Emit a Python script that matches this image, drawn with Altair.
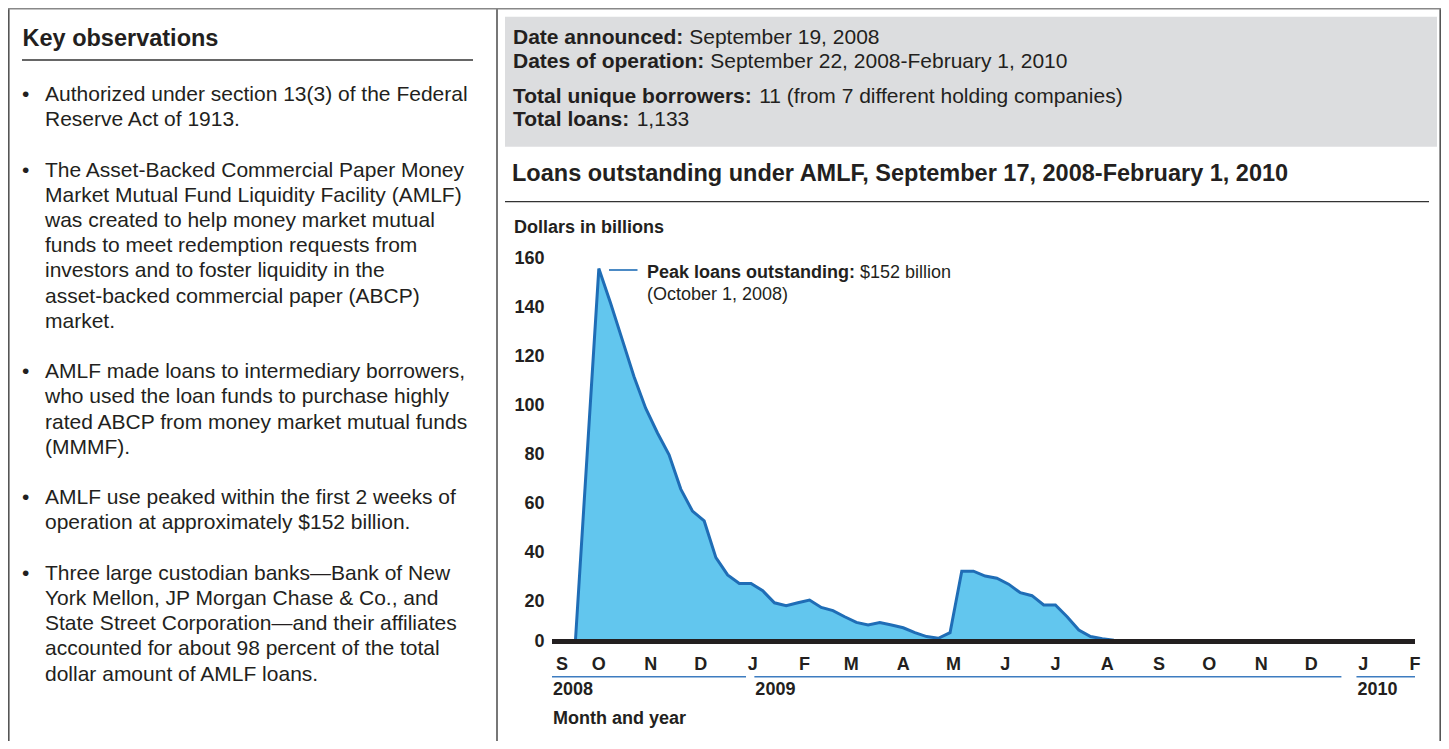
import altair as alt
import pandas as pd

FONT = "Liberation Sans"
INK = "#231f20"
FILL = "#62c6ee"
LINE = "#1f6db6"
RULE_BLUE = "#3d7cc0"
BOX_GRAY = "#dcdddf"
FRAME = "#555555"

# ---------------- data ----------------
first_wednesday = "2008-09-17"
loans_billions = [
    0, 76, 152, 138, 123, 108, 95, 85, 76, 62, 53, 49, 34, 27, 23.5, 23.5,
    20.5, 15.6, 14.4, 15.6, 16.7, 13.7, 12.4, 9.9, 7.6, 6.5, 7.5, 6.5, 5.4,
    3.4, 1.8, 1.1, 3.4, 28.5, 28.5, 26.5, 25.6, 23.2, 19.7, 18.5, 14.7, 14.7,
    9.9, 4.5, 1.8, 0.9, 0.3,
    0, 0, 0, 0, 0, 0, 0, 0, 0, 0, 0, 0, 0, 0, 0, 0, 0, 0, 0, 0, 0, 0, 0, 0, 0,
]
week_dates = pd.date_range(first_wednesday, periods=len(loans_billions), freq="7D").strftime("%Y-%m-%d").tolist()

y_ticks = [0, 20, 40, 60, 80, 100, 120, 140, 160]
month_dates = ["2008-09-09", "2008-10-01", "2008-11-01", "2008-12-01", "2009-01-01",
               "2009-02-01", "2009-03-01", "2009-04-01", "2009-05-01", "2009-06-01",
               "2009-07-01", "2009-08-01", "2009-09-01", "2009-10-01", "2009-11-01",
               "2009-12-01", "2010-01-01", "2010-02-01"]
month_letters = ["S", "O", "N", "D", "J", "F", "M", "A", "M", "J", "J", "A", "S", "O",
                 "N", "D", "J", "F"]
year_labels = ["2008", "2009", "2010"]
year_starts = ["2008-09-03", "2009-01-02", "2009-12-28"]
year_ends = ["2008-12-28", "2009-12-19", "2010-02-01"]

# ---------------- text ----------------
key_title = "Key observations"
key_paragraphs = [
    ["Authorized under section 13(3) of the Federal", "Reserve Act of 1913."],
    ["The Asset-Backed Commercial Paper Money", "Market Mutual Fund Liquidity Facility (AMLF)",
     "was created to help money market mutual", "funds to meet redemption requests from",
     "investors and to foster liquidity in the", "asset-backed commercial paper (ABCP)", "market."],
    ["AMLF made loans to intermediary borrowers,", "who used the loan funds to purchase highly",
     "rated ABCP from money market mutual funds", "(MMMF)."],
    ["AMLF use peaked within the first 2 weeks of", "operation at approximately $152 billion."],
    ["Three large custodian banks\u2014Bank of New", "York Mellon, JP Morgan Chase & Co., and",
     "State Street Corporation\u2014and their affiliates", "accounted for about 98 percent of the total",
     "dollar amount of AMLF loans."],
]
box_lines = [
    ("Date announced:", "September 19, 2008"),
    ("Dates of operation:", "September 22, 2008-February 1, 2010"),
    ("Total unique borrowers:", "11 (from 7 different holding companies)"),
    ("Total loans:", "1,133"),
]
chart_title = "Loans outstanding under AMLF, September 17, 2008-February 1, 2010"
y_title = "Dollars in billions"
x_title = "Month and year"
peak_bold = "Peak loans outstanding:"
peak_regular = "$152 billion"
peak_date = "(October 1, 2008)"

# ---------------- layout ----------------
W, H = 863, 392
OX, OY = 552, 249  # page position of the plot origin
PAD = {"left": OX - 8, "top": OY - 8, "right": 1433 - (OX - 8) - W, "bottom": 733 - (OY - 8) - H}


def rx(px):
    return px - OX


def ry(py):
    return py - OY


BOLD_W = {' ': 278, 'a': 556, 'b': 611, 'c': 556, 'd': 611, 'e': 556, 'f': 333, 'g': 611,
          'i': 278, 'k': 556, 'l': 278, 'n': 611, 'o': 611, 'p': 611, 'q': 611, 'r': 389,
          's': 556, 't': 333, 'u': 611, 'w': 778, 'D': 722, 'P': 667, 'T': 611, ':': 333}


def bold_width(s, size):
    return sum(BOLD_W[c] for c in s) * size / 1000.0


one = pd.DataFrame({"k": [0]})


def txt(s, px, py, size, bold=False, align="left", color=INK):
    return alt.Chart(one).mark_text(
        font=FONT, fontSize=size, fontWeight="bold" if bold else "normal",
        align=align, baseline="middle", color=color
    ).encode(x=alt.value(rx(px)), y=alt.value(ry(py)), text=alt.value(s))


def hline(px1, px2, py, color, width):
    return alt.Chart(one).mark_rule(color=color, strokeWidth=width).encode(
        x=alt.value(rx(px1)), x2=alt.value(rx(px2)), y=alt.value(ry(py)))


def vline(px, py1, py2, color, width):
    return alt.Chart(one).mark_rule(color=color, strokeWidth=width).encode(
        x=alt.value(rx(px)), y=alt.value(ry(py1)), y2=alt.value(ry(py2)))


layers = []

# frame
layers.append(vline(8.8, 8, 741, FRAME, 1.6))
layers.append(vline(1440.2, 8, 741, FRAME, 1.6))
layers.append(vline(497, 8, 741, FRAME, 1.6))
layers.append(hline(8, 1441, 8.8, "#888888", 1.6))

# left panel
layers.append(txt(key_title, 22.5, 38.5, 23.5, bold=True))
layers.append(hline(22, 473, 60, "#333333", 1.3))
line_idx = 0
for para in key_paragraphs:
    for j, line in enumerate(para):
        py = 95 + 25.2 * line_idx
        if j == 0:
            layers.append(txt("\u2022", 25.7, py, 21, align="center"))
        layers.append(txt(line, 45, py, 21))
        line_idx += 1
    line_idx += 1

# right panel header box
layers.append(alt.Chart(one).mark_rect(color=BOX_GRAY).encode(
    x=alt.value(rx(505)), x2=alt.value(rx(1437)), y=alt.value(ry(16.7)), y2=alt.value(ry(146.7))))
for (b, r), py in zip(box_lines, [38.3, 61.7, 96.7, 120.0]):
    layers.append(txt(b, 513, py, 21, bold=True))
    layers.append(txt(r, 513 + bold_width(b, 21) + 0.278 * 21, py, 21))

layers.append(txt(chart_title, 512, 174, 23.5, bold=True))
layers.append(hline(505, 1429, 201.7, "#333333", 1.3))
layers.append(txt(y_title, 514, 227.5, 18, bold=True))

# ---------------- chart ----------------
X_SCALE = alt.Scale(type="utc",
                    domain=[alt.DateTime(year=2008, month=9, date=3, utc=True),
                            alt.DateTime(year=2010, month=2, date=1, utc=True)])
Y_SCALE = alt.Scale(domain=[0, 160], nice=False, zero=True)

loans = pd.DataFrame({"date": week_dates, "loans": loans_billions})
area = alt.Chart(loans).mark_area(
    color=FILL, fill=FILL, opacity=1, fillOpacity=1, interpolate="linear",
    line={"color": LINE, "strokeWidth": 3, "strokeJoin": "miter", "opacity": 1}
).encode(
    x=alt.X("date:T", scale=X_SCALE, axis=None),
    y=alt.Y("loans:Q", scale=Y_SCALE, axis=alt.Axis(
        values=y_ticks, title=None, grid=False, domain=False, ticks=False,
        labelPadding=8, labelFontSize=18, labelFontWeight="bold", labelColor=INK,
        labelFont=FONT,
        labelOffset={"condition": {"test": "datum.value === 0", "value": 0}, "value": 9.5})),
)
layers.append(area)

baseline = alt.Chart(one).mark_rule(color=INK, strokeWidth=5).encode(
    x=alt.value(0), x2=alt.value(W), y=alt.value(H + 0.5))
layers.append(baseline)

# peak annotation
layers.append(hline(609, 637.5, 270, LINE, 1.6))
layers.append(txt(peak_bold, 647, 272.7, 18, bold=True))
layers.append(txt(peak_regular, 647 + bold_width(peak_bold, 18) + 0.278 * 18, 272.7, 18))
layers.append(txt(peak_date, 647, 295, 18))

# month / year labels
months = pd.DataFrame({"d": month_dates, "m": month_letters})
layers.append(alt.Chart(months).mark_text(
    font=FONT, fontSize=18, fontWeight="bold", color=INK, align="center", baseline="middle"
).encode(x=alt.X("d:T", scale=X_SCALE, axis=None), y=alt.value(ry(665)), text="m:N"))

years = pd.DataFrame({"label": year_labels, "start": year_starts, "end": year_ends})
layers.append(alt.Chart(years).mark_rule(color=RULE_BLUE, strokeWidth=1.6).encode(
    x=alt.X("start:T", scale=X_SCALE, axis=None), x2="end:T", y=alt.value(ry(676.7))))
layers.append(alt.Chart(years).mark_text(
    font=FONT, fontSize=18, fontWeight="bold", color=INK, align="left", baseline="middle", dx=1
).encode(x=alt.X("start:T", scale=X_SCALE, axis=None), y=alt.value(ry(690)), text="label:N"))

layers.append(txt(x_title, 553, 719, 18, bold=True))

chart = alt.layer(*layers).properties(
    width=W, height=H, padding=PAD,
    autosize=alt.AutoSizeParams(type="none"),
    background="white",
).configure_view(stroke=None)

chart.save("out.html", embed_options={"renderer": "svg", "actions": False})
